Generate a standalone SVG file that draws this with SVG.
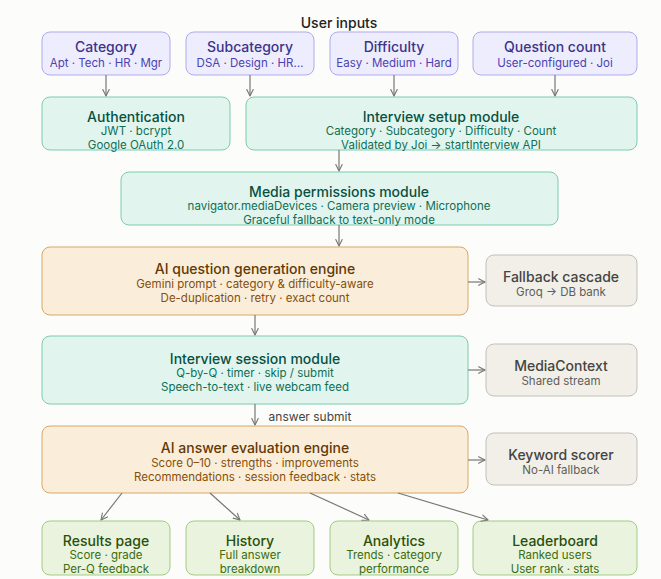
<svg xmlns="http://www.w3.org/2000/svg" width="661" height="579" viewBox="0 0 661 579">
<defs>
<marker id="ah" viewBox="0 0 10 10" refX="9" refY="5" markerWidth="8" markerHeight="8" markerUnits="userSpaceOnUse" orient="auto">
<path d="M1,1 L9,5 L1,9" fill="none" stroke="#777772" stroke-width="1.4" stroke-linecap="round" stroke-linejoin="round"/>
</marker>
<style>
text{font-family:Inter,"Noto Sans","Liberation Sans",sans-serif;text-anchor:middle;dominant-baseline:central}
.t{font-size:14px;font-weight:500}
.s{font-size:11.5px}
.pu rect{fill:#EEEDFE;stroke:#AFA9EC}
.pu .t{fill:#3C3489}.pu .s{fill:#4A42B0}
.te rect{fill:#E1F5EE;stroke:#7CCBAF}
.te .t{fill:#085041}.te .s{fill:#0F6E56}
.am rect{fill:#FAEEDA;stroke:#D8A865}
.am .t{fill:#633806}.am .s{fill:#854F0B}
.gr rect{fill:#F1EFE8;stroke:#C2C0B8}
.gr .t{fill:#444441}.gr .s{fill:#5F5E5A}
.gn rect{fill:#EAF3DE;stroke:#A3CB82}
.gn .t{fill:#27500A}.gn .s{fill:#3B6D11}
rect{stroke-width:1}
.c line{stroke:#777772;stroke-width:1.2;marker-end:url(#ah)}
</style>
</defs>
<rect width="661" height="579" fill="#FCFCFA"/>
<text x="339" y="22" style="font-size:14px;font-weight:500" fill="#222">User inputs</text>

<g id="category" class="pu"><rect x="42" y="32" width="128" height="43" rx="8"/><text class="t" x="106" y="46">Category</text><text class="s" x="106" y="63">Apt · Tech · HR · Mgr</text></g>
<g id="subcategory" class="pu"><rect x="186" y="32" width="128" height="43" rx="8"/><text class="t" x="250" y="46">Subcategory</text><text class="s" x="250" y="63">DSA · Design · HR…</text></g>
<g id="difficulty" class="pu"><rect x="330" y="32" width="128" height="43" rx="8"/><text class="t" x="394" y="46">Difficulty</text><text class="s" x="394" y="63">Easy · Medium · Hard</text></g>
<g id="question-count" class="pu"><rect x="473" y="32" width="164" height="43" rx="8"/><text class="t" x="555" y="46">Question count</text><text class="s" x="555" y="63">User-configured · Joi</text></g>

<g id="authentication" class="te"><rect x="42" y="97" width="188" height="53" rx="8"/><text class="t" x="136" y="116">Authentication</text><text class="s" x="136" y="131">JWT · bcrypt</text><text class="s" x="136" y="145">Google OAuth 2.0</text></g>
<g id="setup" class="te"><rect x="246" y="97" width="391" height="53" rx="8"/><text class="t" x="441" y="116">Interview setup module</text><text class="s" x="441" y="131">Category · Subcategory · Difficulty · Count</text><text class="s" x="441" y="145">Validated by Joi → startInterview API</text></g>

<g id="media" class="te"><rect x="121" y="172" width="437" height="53" rx="8"/><text class="t" x="339" y="191">Media permissions module</text><text class="s" x="339" y="206">navigator.mediaDevices · Camera preview · Microphone</text><text class="s" x="339" y="220">Graceful fallback to text-only mode</text></g>

<g id="question-engine" class="am"><rect x="42" y="247" width="426" height="68" rx="8"/><text class="t" x="255" y="268">AI question generation engine</text><text class="s" x="255" y="284">Gemini prompt · category &amp; difficulty-aware</text><text class="s" x="255" y="298">De-duplication · retry · exact count</text></g>
<g id="fallback" class="gr"><rect x="486" y="255" width="151" height="51" rx="8"/><text class="t" x="561" y="276">Fallback cascade</text><text class="s" x="561" y="292">Groq → DB bank</text></g>

<g id="session" class="te"><rect x="42" y="336" width="426" height="68" rx="8"/><text class="t" x="255" y="358">Interview session module</text><text class="s" x="255" y="373">Q-by-Q · timer · skip / submit</text><text class="s" x="255" y="387">Speech-to-text · live webcam feed</text></g>
<g id="mediacontext" class="gr"><rect x="486" y="344" width="151" height="52" rx="8"/><text class="t" x="561" y="365">MediaContext</text><text class="s" x="561" y="381">Shared stream</text></g>

<g id="eval-engine" class="am"><rect x="42" y="426" width="426" height="67" rx="8"/><text class="t" x="255" y="447">AI answer evaluation engine</text><text class="s" x="255" y="463">Score 0–10 · strengths · improvements</text><text class="s" x="255" y="477">Recommendations · session feedback · stats</text></g>
<g id="keyword" class="gr"><rect x="486" y="433" width="151" height="52" rx="8"/><text class="t" x="561" y="454">Keyword scorer</text><text class="s" x="561" y="470">No-AI fallback</text></g>

<g id="results" class="gn"><rect x="42" y="521" width="128" height="54" rx="8"/><text class="t" x="106" y="540">Results page</text><text class="s" x="106" y="555">Score · grade</text><text class="s" x="106" y="569">Per-Q feedback</text></g>
<g id="history" class="gn"><rect x="186" y="521" width="128" height="54" rx="8"/><text class="t" x="250" y="540">History</text><text class="s" x="250" y="555">Full answer</text><text class="s" x="250" y="569">breakdown</text></g>
<g id="analytics" class="gn"><rect x="330" y="521" width="128" height="54" rx="8"/><text class="t" x="394" y="540">Analytics</text><text class="s" x="394" y="555">Trends · category</text><text class="s" x="394" y="569">performance</text></g>
<g id="leaderboard" class="gn"><rect x="473" y="521" width="164" height="54" rx="8"/><text class="t" x="555" y="540">Leaderboard</text><text class="s" x="555" y="555">Ranked users</text><text class="s" x="555" y="569">User rank · stats</text></g>

<g id="connectors" class="c">
<line x1="106" y1="75" x2="106" y2="96"/>
<line x1="250" y1="75" x2="250" y2="96"/>
<line x1="394" y1="75" x2="394" y2="96"/>
<line x1="555" y1="75" x2="555" y2="96"/>
<line x1="339" y1="150" x2="339" y2="171"/>
<line x1="339" y1="225" x2="339" y2="246"/>
<line x1="468" y1="282" x2="485" y2="282"/>
<line x1="255" y1="315" x2="255" y2="335"/>
<line x1="468" y1="370" x2="485" y2="370"/>
<line x1="255" y1="404" x2="255" y2="425"/>
<line x1="468" y1="460" x2="485" y2="460"/>
<line x1="122" y1="493" x2="101" y2="520"/>
<line x1="210" y1="493" x2="240" y2="520"/>
<line x1="310" y1="493" x2="369" y2="520"/>
<line x1="398" y1="493" x2="488" y2="520"/>
</g>
<text x="310" y="416" style="font-size:12px" fill="#444441">answer submit</text>
</svg>
